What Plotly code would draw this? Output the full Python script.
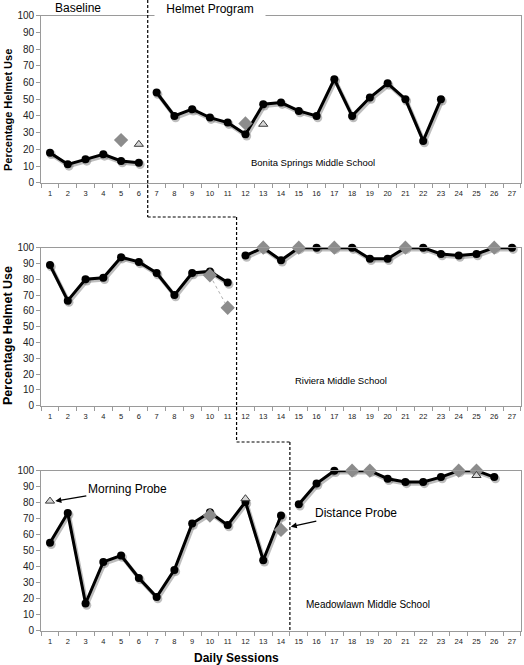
import plotly.graph_objects as go
import numpy as np

sessions = list(range(1, 28))
tick_labels = [str(s) for s in sessions]

# Bonita Springs Middle School
bonita_base_x = [1, 2, 3, 4, 5, 6]
bonita_base_y = [18, 11, 14, 17, 13, 12]
bonita_prog_x = list(range(7, 24))
bonita_prog_y = [54, 40, 44, 39, 36, 29, 47, 48, 43, 40, 62, 40, 51, 59.5, 50, 25, 50]
bonita_dist_x = [5, 12]
bonita_dist_y = [25.5, 35.5]
bonita_morn_x = [6, 13]
bonita_morn_y = [23, 35]

# Riviera Middle School
riviera_base_x = list(range(1, 12))
riviera_base_y = [89, 66.5, 80, 81, 94, 91, 84, 70, 84, 85, 78]
riviera_prog_x = list(range(12, 28))
riviera_prog_y = [95, 100, 92, 100, 100, 100, 100, 93, 93, 100, 100, 96, 95, 96, 100, 100]
riviera_dist_base_x = [10, 11]
riviera_dist_base_y = [82.5, 62]
riviera_dist_prog_x = [13, 15, 17, 21, 26]
riviera_dist_prog_y = [100, 100, 100, 100, 100]

# Meadowlawn Middle School
meadow_base_x = list(range(1, 15))
meadow_base_y = [55, 73.5, 17, 43, 47, 33, 21, 38, 67, 74, 66, 80.5, 44, 72]
meadow_prog_x = list(range(15, 27))
meadow_prog_y = [79, 92, 100, 100, 100, 95, 93, 93, 96, 100, 100, 96]
meadow_dist_x = [10, 14, 18, 19, 24, 25]
meadow_dist_y = [72, 63, 100, 100, 100, 100]
meadow_morn_x = [1, 12, 25]
meadow_morn_y = [81, 82.5, 97]

# phase change positions (between sessions)
phase_changes = [6.5, 11.5, 14.5]

W, H = 524, 665
FONT = "Liberation Sans, Arial, sans-serif"
AXIS_GRAY = "#9a9a9a"
DIAMOND = "#8c8c8c"

fig = go.Figure()

def add_series(xs, ys, axis):
    xa, ya = "x" + axis, "y" + axis
    xs = np.array(xs, dtype=float)
    ys = np.array(ys, dtype=float)
    # soft shadow
    fig.add_trace(go.Scatter(x=xs + 0.07, y=ys - 1.1, mode="lines+markers",
                             line=dict(color="rgba(110,110,110,0.45)", width=4),
                             marker=dict(size=9, color="rgba(110,110,110,0.45)"),
                             xaxis=xa, yaxis=ya, cliponaxis=False, hoverinfo="skip"))
    fig.add_trace(go.Scatter(x=xs, y=ys, mode="lines+markers",
                             line=dict(color="black", width=3),
                             marker=dict(size=8, color="black"),
                             xaxis=xa, yaxis=ya, cliponaxis=False))

def add_diamonds(xs, ys, axis, line=False):
    fig.add_trace(go.Scatter(x=xs, y=ys, mode="lines+markers" if line else "markers",
                             line=dict(color="#b0b0b0", width=1, dash="dot"),
                             marker=dict(symbol="diamond", size=11, color=DIAMOND,
                                         line=dict(width=0)),
                             xaxis="x" + axis, yaxis="y" + axis, cliponaxis=False))

def add_triangles(xs, ys, axis):
    fig.add_trace(go.Scatter(x=xs, y=ys, mode="markers",
                             marker=dict(symbol="triangle-up", size=8, color="#d6d6d6",
                                         line=dict(color="#3a3a3a", width=1)),
                             xaxis="x" + axis, yaxis="y" + axis, cliponaxis=False))

# panel 1
add_series(bonita_base_x, bonita_base_y, "")
add_series(bonita_prog_x, bonita_prog_y, "")
add_diamonds(bonita_dist_x, bonita_dist_y, "")
add_triangles(bonita_morn_x, bonita_morn_y, "")
# panel 2
add_series(riviera_base_x, riviera_base_y, "2")
add_series(riviera_prog_x, riviera_prog_y, "2")
add_diamonds(riviera_dist_base_x, riviera_dist_base_y, "2", line=True)
add_diamonds(riviera_dist_prog_x, riviera_dist_prog_y, "2")
# panel 3
add_series(meadow_base_x, meadow_base_y, "3")
add_series(meadow_prog_x, meadow_prog_y, "3")
add_diamonds(meadow_dist_x, meadow_dist_y, "3")
add_triangles(meadow_morn_x, meadow_morn_y, "3")

def py(px):
    return 1 - px / H

xdom = [41.1 / W, 520.9 / W]
ydoms = [[py(182.7), py(15.7)], [py(405.7), py(247.7)], [py(630.7), py(470.7)]]

xaxis_common = dict(range=[0.5, 27.5], domain=xdom, tickvals=sessions, ticktext=tick_labels,
                    ticks="", showline=True, linecolor=AXIS_GRAY, linewidth=1, mirror=True,
                    showgrid=False, zeroline=False, automargin=False,
                    tickfont=dict(size=7.5, color="#222", family=FONT),
                    ticklabelstandoff=3,
                    minor=dict(ticks="outside", ticklen=4, tick0=0.5, dtick=1,
                               tickcolor=AXIS_GRAY, showgrid=False))
yaxis_common = dict(range=[0, 100], tickvals=list(range(0, 101, 10)), ticks="outside", ticklen=4,
                    tickcolor=AXIS_GRAY, showline=True, linecolor=AXIS_GRAY, linewidth=1,
                    mirror=True, showgrid=False, zeroline=False, automargin=False,
                    tickfont=dict(size=10, color="#222", family=FONT))

layout = dict(template="none", width=W, height=H, margin=dict(l=0, r=0, t=0, b=0, pad=0),
              paper_bgcolor="white", plot_bgcolor="white", showlegend=False,
              font=dict(family=FONT, color="black"))
for i, suffix in enumerate(["", "2", "3"]):
    layout["xaxis" + suffix] = dict(xaxis_common, anchor="y" + suffix)
    layout["yaxis" + suffix] = dict(yaxis_common, domain=ydoms[i], anchor="x" + suffix)
fig.update_layout(**layout)

# phase change dashed line
dash = dict(color="black", width=1.2, dash="3px,2px")
seg_y = [1.0, py(217), py(442), py(632)]
fig.add_shape(type="line", xref="x", yref="paper", x0=phase_changes[0], x1=phase_changes[0],
              y0=seg_y[0], y1=seg_y[1], line=dash)
fig.add_shape(type="line", xref="x", yref="paper", x0=phase_changes[0], x1=phase_changes[1],
              y0=seg_y[1], y1=seg_y[1], line=dash)
fig.add_shape(type="line", xref="x", yref="paper", x0=phase_changes[1], x1=phase_changes[1],
              y0=seg_y[1], y1=seg_y[2], line=dash)
fig.add_shape(type="line", xref="x", yref="paper", x0=phase_changes[1], x1=phase_changes[2],
              y0=seg_y[2], y1=seg_y[2], line=dash)
fig.add_shape(type="line", xref="x", yref="paper", x0=phase_changes[2], x1=phase_changes[2],
              y0=seg_y[2], y1=seg_y[3], line=dash)

C = dict(xanchor="center", yanchor="middle", showarrow=False)
ann = []
ann.append(dict(C, text="Baseline", xref="x", yref="paper", x=2.55, y=py(8),
                font=dict(size=12)))
ann.append(dict(C, text="Helmet Program", xref="x", yref="paper", x=10.0, y=py(8.5),
                font=dict(size=12), bgcolor="white", width=108, height=17))
ann.append(dict(C, text="Bonita Springs Middle School", xref="x", yref="y", x=15.8, y=12,
                font=dict(size=9.5)))
ann.append(dict(C, text="Riviera Middle School", xref="x2", yref="y2", x=17.4, y=16,
                font=dict(size=9.5)))
ann.append(dict(C, text="Meadowlawn Middle School", xref="x3", yref="y3", x=18.9, y=16.5,
                font=dict(size=10)))
ann.append(dict(C, text="<b>Percentage Helmet Use</b>", xref="paper", yref="paper", x=8 / W,
                y=py(110), textangle=-90, font=dict(size=11)))
ann.append(dict(C, text="<b>Percentage Helmet Use</b>", xref="paper", yref="paper", x=8 / W,
                y=py(336), textangle=-90, font=dict(size=12.5)))
ann.append(dict(C, text="<b>Daily Sessions</b>", xref="x3", yref="paper", x=11.5,
                y=py(658), font=dict(size=12)))
ann.append(dict(text="Morning Probe", xref="x3", yref="y3", x=1.3, y=81, ax=72, ay=-12,
                showarrow=True, arrowhead=2, arrowsize=1, arrowwidth=1.2, arrowcolor="black",
                font=dict(size=12)))
ann.append(dict(text="Distance Probe", xref="x3", yref="y3", x=14.55, y=65, ax=65, ay=-14,
                showarrow=True, arrowhead=2, arrowsize=1, arrowwidth=1.2, arrowcolor="black",
                font=dict(size=12)))
fig.update_layout(annotations=ann)

fig.write_html("out.html", config={"displayModeBar": False},
               post_script="document.body.style.margin='0';document.body.style.overflow='hidden';")
